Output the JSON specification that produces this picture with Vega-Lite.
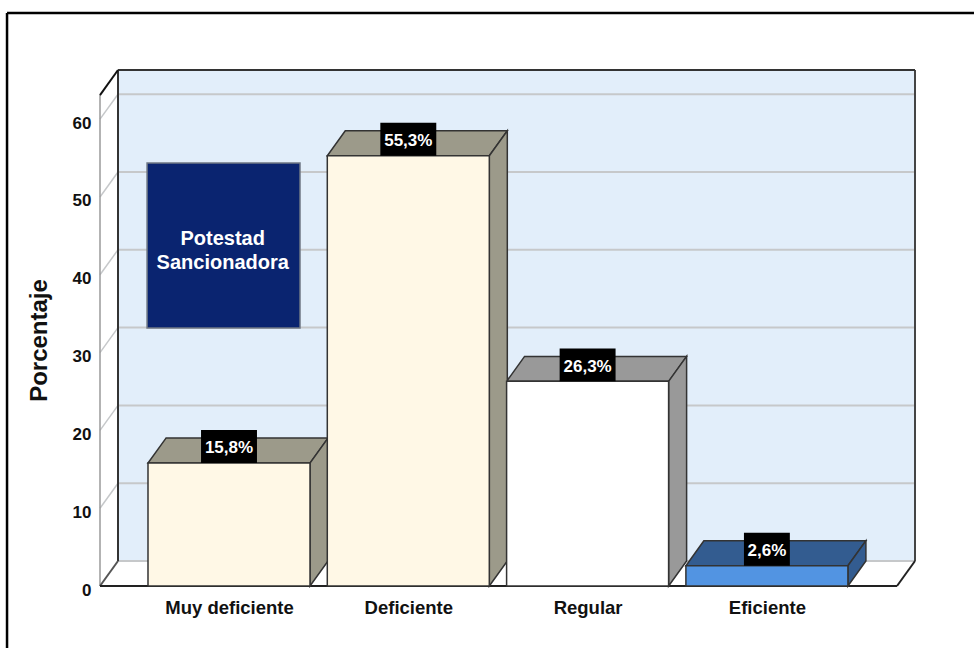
{
"$schema":"https://vega.github.io/schema/vega-lite/v6.json",
"width":815,"height":516,
"autosize":{"type":"none"},
"padding":{"left":100,"top":70,"right":59,"bottom":62},
"background":"white",
"config":{"view":{"stroke":null}},
"resolve":{"axis":{"x":"independent","y":"independent"}},
"datasets":{
"barras":[
{"categoria":"Muy deficiente","orden":0,"porcentaje":15.8,"etiqueta":"15,8%"},
{"categoria":"Deficiente","orden":1,"porcentaje":55.3,"etiqueta":"55,3%"},
{"categoria":"Regular","orden":2,"porcentaje":26.3,"etiqueta":"26,3%"},
{"categoria":"Eficiente","orden":3,"porcentaje":2.6,"etiqueta":"2,6%"}
],
"marcas":[{"v":10},{"v":20},{"v":30},{"v":40},{"v":50},{"v":60}],
"nota":[{"titulo":"Potestad|Sancionadora"}]
},
"data":{"name":"nota"},
"transform":[
{"calculate":"-0.7195","as":"xL"},{"calculate":"-0.6191","as":"xB"},{"calculate":"3.826","as":"xR"},{"calculate":"3.7256","as":"xF"},
{"calculate":"0","as":"y0"},{"calculate":"3.21","as":"yB"},{"calculate":"66.32","as":"yT"},{"calculate":"63.1","as":"yL"},
{"calculate":"-1.238","as":"xM"},{"calculate":"4.155","as":"xN"},{"calculate":"73.65","as":"yM"},{"calculate":"-7.97","as":"yN"},
{"calculate":"-0.457","as":"xC"},{"calculate":"0.396","as":"xD"},{"calculate":"54.37","as":"yC"},{"calculate":"33.16","as":"yD"},
{"calculate":"-0.035","as":"xE"},{"calculate":"44.6","as":"yE"}
],
"layer":[
{"mark":{"type":"rect","fill":"#e2eefa"},
 "encoding":{"x":{"field":"xB","type":"quantitative","axis":null},"x2":{"field":"xR"},"y":{"field":"yB","type":"quantitative","axis":null},"y2":{"field":"yT"}}},
{"data":{"name":"marcas"},
 "transform":[{"calculate":"datum.v+3.21","as":"vb"},{"calculate":"-0.6191","as":"xB"},{"calculate":"3.826","as":"xR"}],
 "mark":{"type":"rule","stroke":"#c6c8ca","strokeWidth":2},
 "encoding":{"x":{"field":"xB","type":"quantitative","axis":null},"x2":{"field":"xR"},"y":{"field":"vb","type":"quantitative","axis":null}}},
{"data":{"name":"marcas"},
 "transform":[{"calculate":"datum.v+3.21","as":"vb"},{"calculate":"-0.7195","as":"xL"},{"calculate":"-0.6191","as":"xB"}],
 "mark":{"type":"rule","stroke":"#c6c8ca","strokeWidth":1.5},
 "encoding":{"x":{"field":"xL","type":"quantitative","axis":null},"x2":{"field":"xB"},"y":{"field":"v","type":"quantitative","axis":null},"y2":{"field":"vb"}}},
{"mark":{"type":"rule","stroke":"#c6c8ca","strokeWidth":2},
 "encoding":{"x":{"field":"xB","type":"quantitative","axis":null},"x2":{"field":"xR"},"y":{"field":"yB","type":"quantitative","axis":null}}},
{"mark":{"type":"rule","stroke":"#9a9a9a","strokeWidth":1.5},
 "encoding":{"x":{"field":"xL","type":"quantitative","axis":null},"y":{"field":"y0","type":"quantitative","axis":null},"y2":{"field":"yL"}}},
{"mark":{"type":"rule","stroke":"#333333","strokeWidth":2},
 "encoding":{"x":{"field":"xB","type":"quantitative","axis":null},"y":{"field":"yB","type":"quantitative","axis":null},"y2":{"field":"yT"}}},
{"mark":{"type":"rule","stroke":"#444444","strokeWidth":2},
 "encoding":{"x":{"field":"xR","type":"quantitative","axis":null},"y":{"field":"yB","type":"quantitative","axis":null},"y2":{"field":"yT"}}},
{"mark":{"type":"rule","stroke":"#333333","strokeWidth":2},
 "encoding":{"x":{"field":"xB","type":"quantitative","axis":null},"x2":{"field":"xR"},"y":{"field":"yT","type":"quantitative","axis":null}}},
{"mark":{"type":"rule","stroke":"#111111","strokeWidth":2},
 "encoding":{"x":{"field":"xL","type":"quantitative","axis":null},"x2":{"field":"xB"},"y":{"field":"yL","type":"quantitative","axis":null},"y2":{"field":"yT"}}},
{"mark":{"type":"rule","stroke":"#555555","strokeWidth":2},
 "encoding":{"x":{"field":"xL","type":"quantitative","axis":null},"x2":{"field":"xB"},"y":{"field":"y0","type":"quantitative","axis":null},"y2":{"field":"yB"}}},
{"mark":{"type":"rule","stroke":"#222222","strokeWidth":2},
 "encoding":{"x":{"field":"xF","type":"quantitative","axis":null},"x2":{"field":"xR"},"y":{"field":"y0","type":"quantitative","axis":null},"y2":{"field":"yB"}}},
{"mark":{"type":"rule","stroke":"#222222","strokeWidth":2},
 "encoding":{"x":{"field":"xL","type":"quantitative","axis":null},"x2":{"field":"xF"},"y":{"field":"y0","type":"quantitative","axis":null}}},
{"mark":{"type":"rule","stroke":"#000000","strokeWidth":2.5,"clip":false},
 "encoding":{"x":{"field":"xM","type":"quantitative","axis":null},"x2":{"field":"xN"},"y":{"field":"yM","type":"quantitative","axis":null}}},
{"mark":{"type":"rule","stroke":"#000000","strokeWidth":2.5,"clip":false},
 "encoding":{"x":{"field":"xM","type":"quantitative","axis":null},"y":{"field":"yM","type":"quantitative","axis":null},"y2":{"field":"yN"}}},
{"mark":{"type":"rect","fill":"#0a2470","stroke":"#6f7784","strokeWidth":1.5},
 "encoding":{"x":{"field":"xC","type":"quantitative","axis":null},"x2":{"field":"xD"},"y":{"field":"yC","type":"quantitative","axis":null},"y2":{"field":"yD"}}},
{"mark":{"type":"text","color":"white","font":"Liberation Sans","fontWeight":"bold","fontSize":20,"lineBreak":"|","lineHeight":24,"align":"center","baseline":"middle"},
 "encoding":{"x":{"field":"xE","type":"quantitative","axis":null},"y":{"field":"yE","type":"quantitative","axis":null},"text":{"field":"titulo","type":"nominal"}}},
{"data":{"name":"barras"},
 "transform":[{"calculate":"[0,1]","as":"t"},{"flatten":["t"]},
  {"calculate":"datum.orden-0.4518+datum.t*0.1004","as":"xa"},
  {"calculate":"datum.orden+0.4518+datum.t*0.1004","as":"xb"},
  {"calculate":"datum.porcentaje+datum.t*3.21","as":"ya"}],
 "mark":{"type":"area","orient":"horizontal","stroke":"#333333","strokeWidth":1.5},
 "encoding":{"y":{"field":"ya","type":"quantitative","axis":null},"x":{"field":"xa","type":"quantitative","axis":null},"x2":{"field":"xb"},
  "fill":{"field":"categoria","type":"nominal","legend":null,"scale":{"domain":["Muy deficiente","Deficiente","Regular","Eficiente"],"range":["#9c9a8a","#9c9a8a","#999999","#335c90"]}}}},
{"data":{"name":"barras"},
 "transform":[{"calculate":"[0,1]","as":"t"},{"flatten":["t"]},
  {"calculate":"datum.orden+0.4518+datum.t*0.1004","as":"xs"},
  {"calculate":"datum.t*3.21","as":"yb"},
  {"calculate":"datum.porcentaje+datum.t*3.21","as":"ya"}],
 "mark":{"type":"area","orient":"vertical","stroke":"#333333","strokeWidth":1.5},
 "encoding":{"x":{"field":"xs","type":"quantitative","axis":null},"y":{"field":"yb","type":"quantitative","axis":null},"y2":{"field":"ya"},
  "fill":{"field":"categoria","type":"nominal","legend":null,"scale":{"domain":["Muy deficiente","Deficiente","Regular","Eficiente"],"range":["#9c9a8a","#9c9a8a","#999999","#335c90"]}}}},
{"data":{"name":"barras"},
 "transform":[{"calculate":"datum.orden-0.4518","as":"xa"},{"calculate":"datum.orden+0.4518","as":"xb"},{"calculate":"0","as":"y0"}],
 "mark":{"type":"rect","stroke":"#333333","strokeWidth":1.5},
 "encoding":{"x":{"field":"xa","type":"quantitative","axis":null},"x2":{"field":"xb"},"y":{"field":"y0","type":"quantitative","axis":null},"y2":{"field":"porcentaje"},
  "color":{"field":"categoria","type":"nominal","legend":null,"scale":{"domain":["Muy deficiente","Deficiente","Regular","Eficiente"],"range":["#fff8e6","#fff8e6","#ffffff","#5294e2"]}}}},
{"data":{"name":"barras"},
 "transform":[{"calculate":"length(datum.etiqueta)>4?0.156:0.128","as":"m"},{"calculate":"datum.orden-datum.m","as":"xa"},{"calculate":"datum.orden+datum.m","as":"xb"},{"calculate":"datum.porcentaje+4.24","as":"ya"}],
 "mark":{"type":"rect","fill":"#000000"},
 "encoding":{
  "x":{"field":"xa","type":"quantitative","scale":{"domain":[-0.7195,3.826],"nice":false,"zero":false},
   "axis":{"values":[0,1,2,3],"labelExpr":"['Muy deficiente','Deficiente','Regular','Eficiente'][datum.value]","title":null,"domain":false,"ticks":false,"grid":false,"labelFont":"Liberation Sans","labelFontWeight":"bold","labelFontSize":18.5,"labelColor":"#111111","labelPadding":12,"labelOverlap":false,"labelFlush":false}},
  "x2":{"field":"xb"},
  "y":{"field":"porcentaje","type":"quantitative","scale":{"domain":[0,66.32],"nice":false,"zero":false},
   "axis":{"values":[0,10,20,30,40,50,60],"title":"Porcentaje","titleFont":"Liberation Sans","titleFontWeight":"bold","titleFontSize":24,"titleColor":"#111111","titleX":-49,"titleY":270,"domain":false,"ticks":false,"grid":false,"labelFont":"Liberation Sans","labelFontWeight":"bold","labelFontSize":17,"labelColor":"#111111","labelPadding":9,"labelOffset":4,"labelOverlap":false,"labelFlush":false}},
  "y2":{"field":"ya"}}},
{"data":{"name":"barras"},
 "transform":[{"calculate":"datum.porcentaje+1.9","as":"ya"}],
 "mark":{"type":"text","color":"white","font":"Liberation Sans","fontWeight":"bold","fontSize":17,"align":"center","baseline":"middle"},
 "encoding":{"x":{"field":"orden","type":"quantitative","axis":null},"y":{"field":"ya","type":"quantitative","axis":null},"text":{"field":"etiqueta","type":"nominal"}}}
]
}
